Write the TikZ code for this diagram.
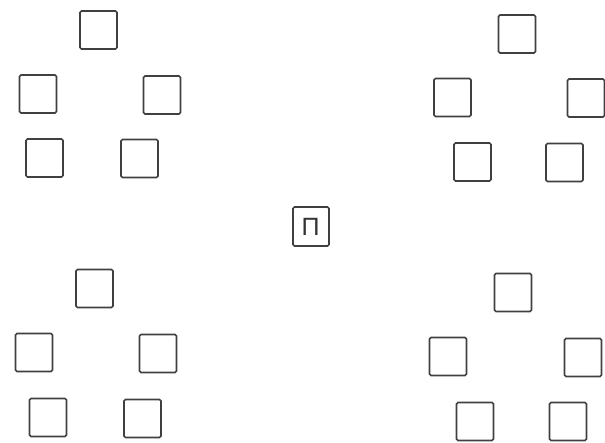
\documentclass[tikz,border=0pt]{standalone}
\usepackage{fontspec}
\newfontfamily\glyphfont{Liberation Sans}
\begin{document}
\begin{tikzpicture}[x=1pt,y=-1pt,
  cell/.style={draw=black!75, line width=1.7pt, rounded corners=1.5pt,
    minimum width=37pt, minimum height=38pt, inner sep=0pt, outer sep=0pt}]
\useasboundingbox (0,0) rectangle (605,442);
% top-left group
\node[cell] (a1) at (98.5,30) {};
\node[cell] (a2) at (38,94) {};
\node[cell] (a3) at (162,95) {};
\node[cell] (a4) at (44.5,158) {};
\node[cell] (a5) at (139.5,158.5) {};
% top-right group
\node[cell] (b1) at (517,34) {};
\node[cell] (b2) at (452.5,97.5) {};
\node[cell] (b3) at (586,98) {};
\node[cell] (b4) at (472.5,162) {};
\node[cell] (b5) at (564.5,162.5) {};
% bottom-left group
\node[cell] (c1) at (94.5,288.5) {};
\node[cell] (c2) at (34,352.5) {};
\node[cell] (c3) at (158,353.5) {};
\node[cell] (c4) at (48,417.5) {};
\node[cell] (c5) at (142.5,418.5) {};
% bottom-right group
\node[cell] (d1) at (513,292.5) {};
\node[cell] (d2) at (448,356.5) {};
\node[cell] (d3) at (583,357.5) {};
\node[cell] (d4) at (475,421.5) {};
\node[cell] (d5) at (568,421.5) {};
% centre
\node[cell, minimum width=36pt, minimum height=39pt] (m) at (311,226.5) {};
\node[text=black!80, font=\glyphfont\fontsize{25}{25}\selectfont, inner sep=0pt] (mt) at (310.5,226.5) {П};
\end{tikzpicture}
\end{document}
